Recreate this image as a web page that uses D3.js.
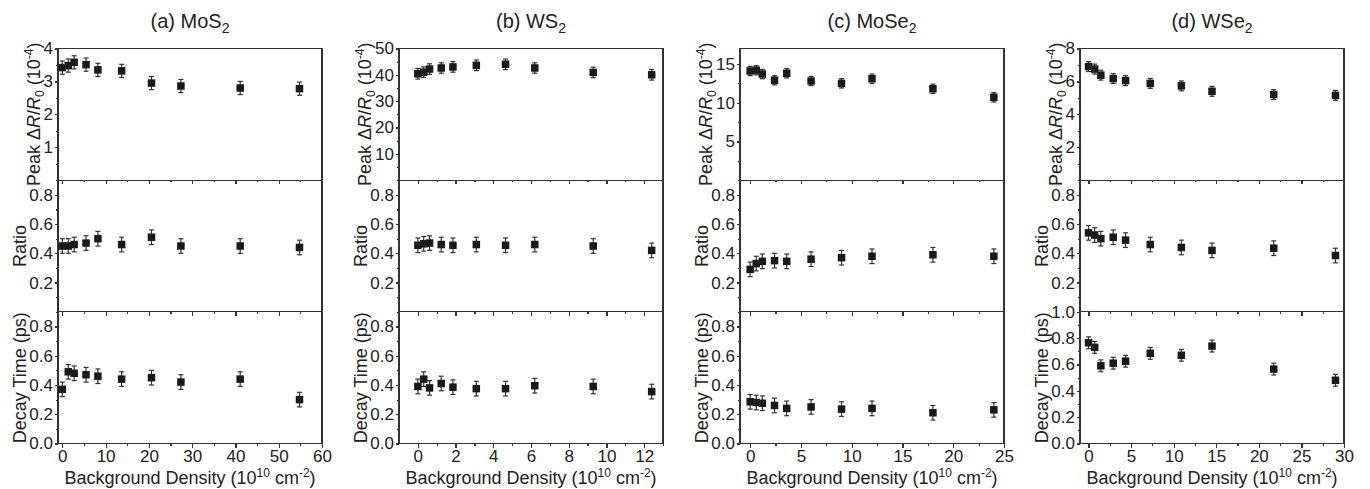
<!DOCTYPE html>
<html lang="en">
<head>
<meta charset="utf-8">
<title>Background density dependence</title>
<script src="https://cdnjs.cloudflare.com/ajax/libs/d3/7.8.5/d3.min.js"></script>
<style>
body {
  margin: 0;
  background-color: #fff;
}
svg {
  font-family: "Liberation Sans", Arial, sans-serif;
}
.frame {
  fill: none;
  stroke: #333;
  stroke-width: 1.2px;
  shape-rendering: crispEdges;
}
.axis line {
  stroke: #333;
  stroke-width: 1.2px;
  shape-rendering: crispEdges;
}
.axis text {
  font-size: 17px;
  fill: #222;
}
.err {
  stroke: #333;
  stroke-width: 1.2px;
}
.pt {
  fill: #1a1a1a;
}
.lab {
  font-size: 18px;
  fill: #222;
}
.title {
  font-size: 20px;
  fill: #222;
}
</style>
</head>
<body>
<svg width="1370" height="489"></svg>
<script>
// densities (10^10 cm^-2)
var densA = [0, 1.37, 2.74, 5.48, 8.22, 13.7, 20.6, 27.4, 41.1, 54.8];
var densB = [0, 0.31, 0.62, 1.24, 1.86, 3.1, 4.65, 6.2, 9.3, 12.4];
var densC = [0, 0.6, 1.2, 2.4, 3.6, 6, 9, 12, 18, 24];
var densD = [0, 0.725, 1.45, 2.9, 4.35, 7.25, 10.9, 14.5, 21.75, 29];

// peak dR/R0 (10^-4)
var peakA = [3.42, 3.48, 3.58, 3.51, 3.35, 3.32, 2.95, 2.86, 2.80, 2.78];
var peakB = [40.4, 41.0, 42.2, 42.6, 43.0, 43.6, 44.0, 42.6, 40.9, 40.0];
var peakC = [14.1, 14.2, 13.7, 12.9, 13.8, 12.8, 12.5, 13.1, 11.8, 10.7];
var peakD = [6.9, 6.75, 6.38, 6.17, 6.05, 5.88, 5.73, 5.4, 5.2, 5.15];

// ratio
var ratioA = [0.45, 0.45, 0.46, 0.47, 0.50, 0.46, 0.51, 0.45, 0.45, 0.44];
var ratioB = [0.455, 0.465, 0.47, 0.46, 0.455, 0.46, 0.455, 0.46, 0.45, 0.42];
var ratioC = [0.29, 0.33, 0.345, 0.35, 0.345, 0.36, 0.37, 0.38, 0.39, 0.38];
var ratioD = [0.54, 0.525, 0.50, 0.51, 0.49, 0.46, 0.44, 0.42, 0.435, 0.385];

// decay time (ps)
var decayA = [0.37, 0.49, 0.48, 0.47, 0.46, 0.44, 0.45, 0.42, 0.44, 0.30];
var decayB = [0.39, 0.44, 0.38, 0.41, 0.385, 0.375, 0.375, 0.395, 0.39, 0.355];
var decayC = [0.285, 0.28, 0.275, 0.26, 0.24, 0.25, 0.235, 0.24, 0.21, 0.23];
var decayD = [0.765, 0.73, 0.59, 0.61, 0.625, 0.685, 0.67, 0.74, 0.565, 0.48];

// error bar half-heights, one per material
var peakErr = [0.2, 2.0, 0.6, 0.3];
var ratioErr = [0.05, 0.05, 0.05, 0.05];
var decayErr = [0.05, 0.05, 0.05, 0.045];

var materials = ["MoS", "WS", "MoSe", "WSe"];
var letters = ["(a) ", "(b) ", "(c) ", "(d) "];

var xMax = [60, 13, 25, 30];
var xTicks = [[0, 10, 20, 30, 40, 50, 60], [0, 2, 4, 6, 8, 10, 12], [0, 5, 10, 15, 20, 25], [0, 5, 10, 15, 20, 25, 30]];
var xMinor = [5, 1, 2.5, 2.5];

var peakMax = [4, 50, 17, 8];
var peakTicks = [[1, 2, 3, 4], [10, 20, 30, 40, 50], [5, 10, 15], [2, 4, 6, 8]];
var peakMinor = [0.5, 5, 2.5, 1];
var ratioTicks = [0.2, 0.4, 0.6, 0.8];
var decayMax = [0.9, 0.9, 0.9, 1.0];
var decayTicks = [[0, 0.2, 0.4, 0.6, 0.8], [0, 0.2, 0.4, 0.6, 0.8], [0, 0.2, 0.4, 0.6, 0.8], [0, 0.2, 0.4, 0.6, 0.8, 1.0]];

var dens = [densA, densB, densC, densD];
var rows = [
  {vals: [peakA, peakB, peakC, peakD], err: peakErr, max: peakMax, ticks: peakTicks, minor: peakMinor, fmt: d3.format("d")},
  {vals: [ratioA, ratioB, ratioC, ratioD], err: ratioErr, max: [0.9, 0.9, 0.9, 0.9], ticks: [ratioTicks, ratioTicks, ratioTicks, ratioTicks], minor: [0.1, 0.1, 0.1, 0.1], fmt: d3.format(".1f")},
  {vals: [decayA, decayB, decayC, decayD], err: decayErr, max: decayMax, ticks: decayTicks, minor: [0.1, 0.1, 0.1, 0.1], fmt: d3.format(".1f")}
];

var svg = d3.select("svg");
var lefts = [58, 399, 740, 1080],
    pw = 264,
    top0 = 48.5,
    ph = (443.5 - 48.5) / 3;

function minorVals(max, step) {
  var out = [];
  for (var v = 0; v <= max + 1e-9; v += step) out.push(+v.toFixed(4));
  return out;
}

function yLabel(t, r) {
  if (r == 0) {
    t.append("tspan").text("Peak \u0394");
    t.append("tspan").style("font-style", "italic").text("R");
    t.append("tspan").text("/");
    t.append("tspan").style("font-style", "italic").text("R");
    t.append("tspan").attr("font-size", 12).attr("dy", 4).text("0");
    t.append("tspan").attr("dy", -4).text(" (10");
    t.append("tspan").attr("font-size", 12).attr("dy", -7).text("-4");
    t.append("tspan").attr("dy", 7).text(")");
  } else if (r == 1) {
    t.text("Ratio");
  } else {
    t.text("Decay Time (ps)");
  }
}

for (var i = 0; i < 4; i++) {
  var x = d3.scaleLinear().domain([-1, xMax[i]]).range([lefts[i], lefts[i] + pw]);
  var cx = lefts[i] + pw / 2;

  var title = svg.append("text").attr("class", "title")
      .attr("x", cx).attr("y", 28).attr("text-anchor", "middle");
  title.append("tspan").text(letters[i] + materials[i]);
  title.append("tspan").attr("font-size", 14).attr("dy", 5).text("2");

  for (var r = 0; r < 3; r++) {
    var row = rows[r];
    var y0 = top0 + r * ph;
    var y = d3.scaleLinear().domain([0, row.max[i]]).range([y0 + ph, y0]);
    var g = svg.append("g");

    // x minor + major ticks along panel bottom
    g.append("g").attr("class", "axis")
        .attr("transform", "translate(0," + (y0 + ph) + ")")
        .call(d3.axisBottom(x).tickValues(minorVals(xMax[i], xMinor[i])).tickSize(2).tickFormat(""))
        .call(function(a) { a.select(".domain").remove(); });
    g.append("g").attr("class", "axis")
        .attr("transform", "translate(0," + (y0 + ph) + ")")
        .call(d3.axisBottom(x).tickValues(xTicks[i]).tickSize(4).tickPadding(2)
          .tickFormat(r == 2 ? d3.format("d") : ""))
        .call(function(a) { a.select(".domain").remove(); });

    // y minor + major ticks
    g.append("g").attr("class", "axis")
        .attr("transform", "translate(" + lefts[i] + ",0)")
        .call(d3.axisLeft(y).tickValues(minorVals(row.max[i], row.minor[i])).tickSize(2).tickFormat(""))
        .call(function(a) { a.select(".domain").remove(); });
    var ya = g.append("g").attr("class", "axis")
        .attr("transform", "translate(" + lefts[i] + ",0)")
        .call(d3.axisLeft(y).tickValues(row.ticks[i]).tickSize(3).tickPadding(2).tickFormat(row.fmt))
        .call(function(a) { a.select(".domain").remove(); });

    g.append("rect").attr("class", "frame")
        .attr("x", lefts[i]).attr("y", y0).attr("width", pw).attr("height", ph);

    var bb = ya.node().getBBox();
    var lab = g.append("text").attr("class", "lab")
        .attr("text-anchor", "middle")
        .attr("transform", "translate(" + (lefts[i] + bb.x - 10) + "," + (y0 + ph / 2) + ") rotate(-90)")
        .attr("dy", "0.35em");
    yLabel(lab, r);

    // data
    var pts = dens[i].map(function(d, k) { return {x: d, v: row.vals[i][k], e: row.err[i]}; });
    var eb = g.selectAll(".eb").data(pts).enter().append("g").attr("class", "err");
    eb.append("line")
        .attr("x1", function(d) { return x(d.x); }).attr("x2", function(d) { return x(d.x); })
        .attr("y1", function(d) { return y(d.v - d.e); }).attr("y2", function(d) { return y(d.v + d.e); });
    eb.append("line")
        .attr("x1", function(d) { return x(d.x) - 2.5; }).attr("x2", function(d) { return x(d.x) + 2.5; })
        .attr("y1", function(d) { return y(d.v + d.e); }).attr("y2", function(d) { return y(d.v + d.e); });
    eb.append("line")
        .attr("x1", function(d) { return x(d.x) - 2.5; }).attr("x2", function(d) { return x(d.x) + 2.5; })
        .attr("y1", function(d) { return y(d.v - d.e); }).attr("y2", function(d) { return y(d.v - d.e); });
    g.selectAll(".pt").data(pts).enter().append("rect").attr("class", "pt")
        .attr("x", function(d) { return x(d.x) - 3.75; })
        .attr("y", function(d) { return y(d.v) - 3.75; })
        .attr("width", 7.5).attr("height", 7.5);
  }

  var xl = svg.append("text").attr("class", "lab")
      .attr("x", cx).attr("y", 484).attr("text-anchor", "middle");
  xl.append("tspan").text("Background Density (10");
  xl.append("tspan").attr("font-size", 12).attr("dy", -7).text("10");
  xl.append("tspan").attr("dy", 7).text(" cm");
  xl.append("tspan").attr("font-size", 12).attr("dy", -7).text("-2");
  xl.append("tspan").attr("dy", 7).text(")");
}
</script>
</body>
</html>
